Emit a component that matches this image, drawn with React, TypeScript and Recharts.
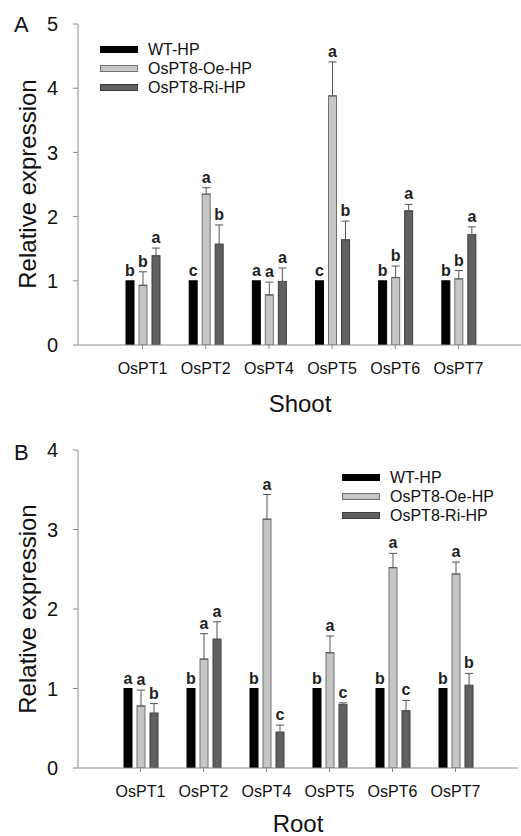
import React from 'react';
import { BarChart, Bar, XAxis, YAxis, ErrorBar, Legend } from 'recharts';

const categories = ['OsPT1', 'OsPT2', 'OsPT4', 'OsPT5', 'OsPT6', 'OsPT7'];
const seriesNames = ['WT-HP', 'OsPT8-Oe-HP', 'OsPT8-Ri-HP'];

// Panel A (Shoot)
const shootWT = [1, 1, 1, 1, 1, 1];
const shootOe = [0.93, 2.35, 0.78, 3.88, 1.05, 1.03];
const shootOeErr = [0.21, 0.1, 0.2, 0.53, 0.18, 0.13];
const shootRi = [1.39, 1.57, 0.99, 1.64, 2.09, 1.72];
const shootRiErr = [0.12, 0.3, 0.21, 0.29, 0.1, 0.12];
const shootWTLetters = ['b', 'c', 'a', 'c', 'b', 'b'];
const shootOeLetters = ['b', 'a', 'a', 'a', 'b', 'b'];
const shootRiLetters = ['a', 'b', 'a', 'b', 'a', 'a'];
const shootTicks = [0, 1, 2, 3, 4, 5];

// Panel B (Root)
const rootWT = [1, 1, 1, 1, 1, 1];
const rootOe = [0.78, 1.37, 3.13, 1.45, 2.52, 2.44];
const rootOeErr = [0.2, 0.32, 0.31, 0.21, 0.18, 0.15];
const rootRi = [0.69, 1.62, 0.45, 0.8, 0.72, 1.04];
const rootRiErr = [0.12, 0.22, 0.09, 0.02, 0.13, 0.15];
const rootWTLetters = ['a', 'b', 'b', 'b', 'b', 'b'];
const rootOeLetters = ['a', 'a', 'a', 'a', 'a', 'a'];
const rootRiLetters = ['b', 'a', 'c', 'c', 'c', 'b'];
const rootTicks = [0, 1, 2, 3, 4];

const FONT = '"Liberation Sans", Arial, sans-serif';
const AXIS = '#8a8a8a';
const FILLS = ['#000000', '#c6c6c6', '#606060'];
const STROKES = ['#000000', '#707070', '#3c3c3c'];
const ERR_COLOR = '#555555';

function buildRows(wt, oe, oeErr, ri, riErr, lw, lo, lr) {
  return categories.map((name, i) => ({
    name,
    wt: wt[i],
    oe: oe[i],
    ri: ri[i],
    oeE: oeErr[i],
    riE: riErr[i],
    oeErr: [0, oeErr[i]],
    riErr: [0, riErr[i]],
    wtL: lw[i],
    oeL: lo[i],
    riL: lr[i],
  }));
}

const shootRows = buildRows(shootWT, shootOe, shootOeErr, shootRi, shootRiErr, shootWTLetters, shootOeLetters, shootRiLetters);
const rootRows = buildRows(rootWT, rootOe, rootOeErr, rootRi, rootRiErr, rootWTLetters, rootOeLetters, rootRiLetters);

function makeShape(idx, valKey, errKey, letterKey) {
  return (props) => {
    const { x, y, width, height, payload } = props;
    const v = payload[valKey];
    const e = errKey ? payload[errKey] : 0;
    const ppu = v ? height / v : 0;
    const topY = y + height - (v + e) * ppu;
    return (
      <g>
        <rect x={x} y={y} width={width} height={height} fill={FILLS[idx]} stroke={STROKES[idx]} strokeWidth={1} />
        <text x={x + width / 2} y={topY - 5} textAnchor="middle" fontSize={16} fontWeight="bold" fontFamily={FONT} fill="#222">
          {payload[letterKey]}
        </text>
      </g>
    );
  };
}

const renderLegend = (props) => {
  const payload = [...(props.payload || [])].sort(
    (a, b) => seriesNames.indexOf(a.value) - seriesNames.indexOf(b.value)
  );
  return (
    <div style={{ fontFamily: FONT, fontSize: 16, color: '#111' }}>
      {payload.map((entry, i) => {
        const k = seriesNames.indexOf(entry.value);
        return (
          <div key={i} style={{ display: 'flex', alignItems: 'center', height: 19 }}>
            <div
              style={{
                width: 36,
                height: 5,
                background: FILLS[k],
                border: `1px solid ${STROKES[k]}`,
                marginRight: 10,
              }}
            />
            <span style={{ lineHeight: '19px' }}>{entry.value}</span>
          </div>
        );
      })}
    </div>
  );
};

function Panel({ rows, ticks, maxY, width, height, marginRight, marginBottom, legendLeft, legendTop, padX }) {
  return (
    <BarChart
      width={width}
      height={height}
      data={rows}
      margin={{ top: 24, right: marginRight, left: 0, bottom: marginBottom }}
      barSize={8}
      barGap={5}
    >
      <XAxis
        dataKey="name"
        stroke={AXIS}
        tickSize={4}
        tickMargin={14}
        tick={{ fontSize: 16, fill: '#111', fontFamily: FONT }}
        height={30}
        padding={{ left: padX, right: padX }}
        interval={0}
      />
      <XAxis xAxisId="top" orientation="top" dataKey="name" stroke={AXIS} tick={false} tickLine={false} height={0} />
      <YAxis
        domain={[0, maxY]}
        ticks={ticks}
        stroke={AXIS}
        width={78}
        tickSize={5}
        tickMargin={15}
        tick={{ fontSize: 20, fill: '#111', fontFamily: FONT }}
        allowDataOverflow
      />
      <YAxis yAxisId="right" orientation="right" stroke={AXIS} tick={false} tickLine={false} width={0} domain={[0, maxY]} />
      <Legend
        layout="vertical"
        align="center"
        verticalAlign="middle"
        wrapperStyle={{ left: legendLeft, top: legendTop, width: 'auto' }}
        content={renderLegend}
      />
      <Bar dataKey="wt" name={seriesNames[0]} fill={FILLS[0]} isAnimationActive={false} shape={makeShape(0, 'wt', null, 'wtL')} />
      <Bar dataKey="oe" name={seriesNames[1]} fill={FILLS[1]} isAnimationActive={false} shape={makeShape(1, 'oe', 'oeE', 'oeL')}>
        <ErrorBar dataKey="oeErr" width={4} stroke={ERR_COLOR} strokeWidth={1} direction="y" />
      </Bar>
      <Bar dataKey="ri" name={seriesNames[2]} fill={FILLS[2]} isAnimationActive={false} shape={makeShape(2, 'ri', 'riE', 'riL')}>
        <ErrorBar dataKey="riErr" width={4} stroke={ERR_COLOR} strokeWidth={1} direction="y" />
      </Bar>
    </BarChart>
  );
}

export default function App() {
  return (
    <div style={{ position: 'absolute', left: 0, top: 0, width: 521, height: 836, overflow: 'hidden', background: '#fff', fontFamily: FONT }}>
      <div style={{ position: 'absolute', left: 0, top: 0 }}>
        <Panel rows={shootRows} ticks={shootTicks} maxY={5} width={530} height={420} marginRight={7} marginBottom={45} legendLeft={100} legendTop={40} padX={33} />
      </div>
      <div style={{ position: 'absolute', left: 0, top: 426 }}>
        <Panel rows={rootRows} ticks={rootTicks} maxY={4} width={521} height={410} marginRight={3} marginBottom={38} legendLeft={342} legendTop={42} padX={31} />
      </div>
      <svg width={521} height={836} style={{ position: 'absolute', left: 0, top: 0, pointerEvents: 'none' }}>
        <g fontFamily={FONT} fill="#111">
          <text x={14} y={32} fontSize={22}>A</text>
          <text x={14} y={460} fontSize={22}>B</text>
          <text x={300} y={412} fontSize={24} textAnchor="middle">Shoot</text>
          <text x={298} y={832} fontSize={24} textAnchor="middle">Root</text>
          <text transform="translate(36,184) rotate(-90)" fontSize={24} textAnchor="middle">Relative expression</text>
          <text transform="translate(36,609) rotate(-90)" fontSize={24} textAnchor="middle">Relative expression</text>
        </g>
      </svg>
    </div>
  );
}
